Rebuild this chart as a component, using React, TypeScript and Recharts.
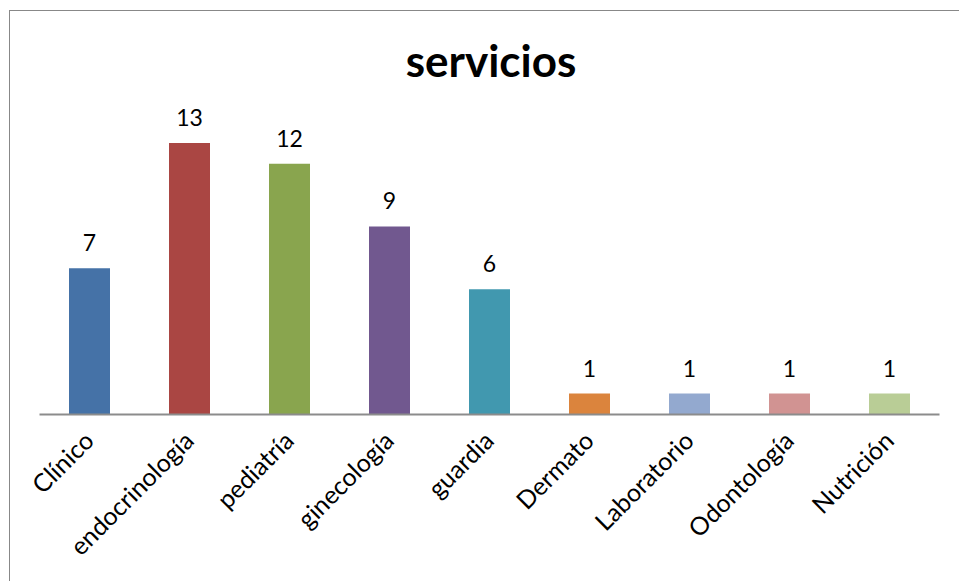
import React from "react";
import { BarChart, Bar, XAxis, YAxis, Cell, LabelList } from "recharts";

const categories = ["Clínico", "endocrinología", "pediatría", "ginecología", "guardia", "Dermato", "Laboratorio", "Odontología", "Nutrición"];
const values = [7, 13, 12, 9, 6, 1, 1, 1, 1];
const colors = ["#4572A7", "#AA4643", "#89A54E", "#71588F", "#4198AF", "#DB843D", "#93A9CF", "#D19392", "#B9CD96"];
const title = "servicios";

const data = categories.map((name, i) => ({ name, value: values[i] }));

const FONT = "Lato, 'Open Sans', sans-serif";

const Tick = (props: any) => {
  const { x, y, payload } = props;
  return (
    <g transform={`translate(${x + 6},${y + 20})`}>
      <text x={0} y={0} textAnchor="end" transform="rotate(-45)" fontSize={25} fontFamily={FONT} fill="#000">
        {payload.value}
      </text>
    </g>
  );
};

export default function App() {
  return (
    <div style={{ position: "absolute", left: 0, top: 0, width: 959, height: 581, background: "#fff", overflow: "hidden" }}>
      <div style={{ position: "absolute", left: 9, top: 10, width: 1000, height: 700, border: "1.5px solid #888", boxSizing: "border-box" }} />
      <div style={{ position: "absolute", left: 0, width: 982, top: 33, textAlign: "center", fontFamily: FONT, fontWeight: 700, fontSize: 44, lineHeight: "54px", color: "#000" }}>
        {title}
      </div>
      <div style={{ position: "absolute", left: 0, top: 0 }}>
        <BarChart width={959} height={581} data={data} margin={{ top: 122, right: 19.5, left: 39.5, bottom: 26.5 }} barCategoryGap="29.5%">
          <XAxis dataKey="name" height={140} interval={0} tickLine={false} axisLine={{ stroke: "#8c8c8c", strokeWidth: 2 }} tick={<Tick />} />
          <YAxis hide domain={[0, 14]} />
          <Bar dataKey="value" isAnimationActive={false}>
            {data.map((d, i) => (
              <Cell key={d.name} fill={colors[i]} />
            ))}
            <LabelList dataKey="value" position="top" offset={17} fontSize={23} fontFamily={FONT} fill="#000" />
          </Bar>
        </BarChart>
      </div>
    </div>
  );
}
